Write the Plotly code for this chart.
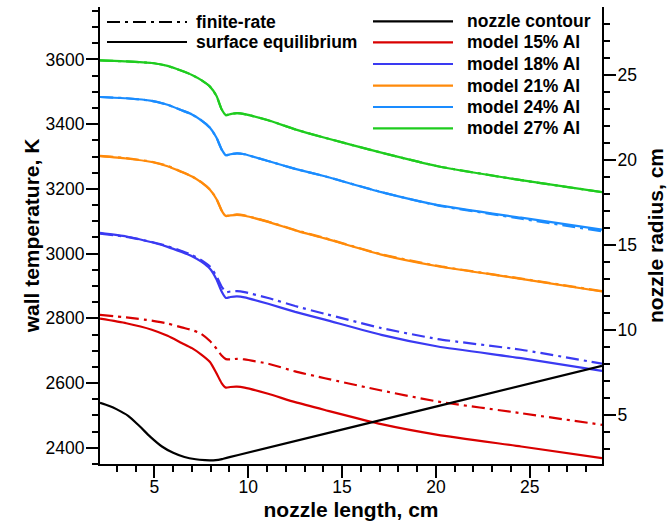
import plotly.graph_objects as go

# ---------------- data ----------------
x_model = [2.1, 3.5, 4.86, 5.7, 6.45, 7.0, 7.5, 7.96, 8.31, 8.58, 8.81, 9.05, 9.4, 9.8,
           11.06, 12.5, 14.08, 17.09, 20.1, 24.54, 28.85]

# surface equilibrium (solid)
eq_15 = [2799, 2785, 2765, 2746, 2724, 2708, 2688, 2665, 2630, 2600, 2586, 2588, 2589, 2586,
         2567, 2541, 2517, 2473, 2440, 2404, 2368]
eq_18 = [3064, 3053, 3035, 3021, 3005, 2992, 2975, 2953, 2920, 2883, 2863, 2866, 2868, 2865,
         2845, 2820, 2796, 2749, 2713, 2677, 2638]
eq_21 = [3301, 3294, 3283, 3270, 3252, 3238, 3220, 3197, 3168, 3133, 3116, 3118, 3120, 3117,
         3098, 3072, 3047, 2997, 2961, 2922, 2883]
eq_24 = [3484, 3480, 3472, 3460, 3443, 3430, 3412, 3389, 3358, 3322, 3304, 3307, 3310, 3307,
         3286, 3262, 3239, 3190, 3150, 3111, 3074]
eq_27 = [3597, 3594, 3589, 3580, 3565, 3552, 3536, 3516, 3487, 3446, 3428, 3431, 3434, 3431,
         3412, 3384, 3358, 3312, 3270, 3227, 3190]

# finite-rate (dash-dot)
fr_15 = [2811, 2803, 2793, 2784, 2772, 2764, 2752, 2730, 2706, 2685, 2674, 2673, 2675, 2673,
         2660, 2636, 2615, 2577, 2543, 2507, 2471]
fr_18 = [3062, 3052, 3036, 3023, 3008, 2996, 2980, 2960, 2930, 2898, 2881, 2883, 2884, 2881,
         2863, 2838, 2814, 2770, 2736, 2703, 2660]
fr_21 = [3302, 3295, 3284, 3271, 3253, 3239, 3221, 3198, 3169, 3134, 3117, 3119, 3121, 3118,
         3099, 3073, 3048, 2998, 2962, 2923, 2884]
fr_24 = [3484, 3480, 3472, 3460, 3443, 3430, 3412, 3389, 3358, 3322, 3304, 3307, 3310, 3307,
         3286, 3262, 3239, 3190, 3149, 3108, 3069]
fr_27 = [3597, 3594, 3589, 3580, 3565, 3552, 3536, 3516, 3487, 3446, 3428, 3431, 3434, 3431,
         3412, 3384, 3358, 3312, 3270, 3227, 3190]

# nozzle contour (right axis)
x_nozzle = [2.1, 2.6, 3.0, 3.6, 4.2, 4.8, 5.4, 6.0, 6.6, 7.2, 7.7, 8.14, 8.4, 8.67, 9.0, 9.47,
            20.1, 28.85]
r_nozzle = [5.72, 5.53, 5.33, 4.95, 4.35, 3.7, 3.15, 2.78, 2.53, 2.4, 2.35, 2.33, 2.36, 2.43,
            2.52, 2.65, 5.52, 7.89]

model_names = ["model 15% Al", "model 18% Al", "model 21% Al", "model 24% Al", "model 27% Al"]
model_colors = ["#d90000", "#3a3af2", "#ff8a0a", "#1a8cff", "#1fcc1f"]
eq_series = [eq_15, eq_18, eq_21, eq_24, eq_27]
fr_series = [fr_15, fr_18, fr_21, fr_24, fr_27]

x_ticks = [5, 10, 15, 20, 25]
t_ticks = [2400, 2600, 2800, 3000, 3200, 3400, 3600]
r_ticks = [5, 10, 15, 20, 25]

# ---------------- figure ----------------
FONT = "Liberation Sans, Arial, Helvetica, sans-serif"
DASHDOT = "13px,5px,3px,5px"
LW = 2.2

fig = go.Figure()

for name, col, eq, fr in zip(model_names, model_colors, eq_series, fr_series):
    fig.add_trace(go.Scatter(x=x_model, y=fr, mode="lines", name=name + " finite-rate",
                             line=dict(color=col, width=LW, dash=DASHDOT, shape="spline",
                                       smoothing=0.5), showlegend=False))
    fig.add_trace(go.Scatter(x=x_model, y=eq, mode="lines", name=name,
                             line=dict(color=col, width=LW, shape="spline", smoothing=0.5),
                             showlegend=False))

fig.add_trace(go.Scatter(x=x_nozzle, y=r_nozzle, mode="lines", name="nozzle contour",
                         yaxis="y2", line=dict(color="black", width=LW, shape="spline",
                                               smoothing=0.8), showlegend=False))

# ---------------- custom legend (long line samples) ----------------
L, R, T, B = 100, 602, 7, 464


def px(xp):
    return (xp - L) / (R - L)


def py(yp):
    return (B - yp) / (B - T)


shapes = []
annotations = []
leg_font = dict(family=FONT, size=17.5, color="black", weight="bold")

left_items = [("finite-rate", DASHDOT, 22), ("surface equilibrium", "solid", 42)]
for text, dash, yy in left_items:
    shapes.append(dict(type="line", xref="paper", yref="paper", x0=px(107), x1=px(187),
                       y0=py(yy), y1=py(yy), line=dict(color="black", width=LW, dash=dash)))
    annotations.append(dict(text=text, xref="paper", yref="paper", x=px(194), y=py(yy),
                            xanchor="left", yanchor="middle", showarrow=False, font=leg_font))

right_items = [("nozzle contour", "black")] + list(zip(model_names, model_colors))
right_y = [21.3, 42.3, 64, 85.7, 107, 128.3]
for (text, col), yy in zip(right_items, right_y):
    shapes.append(dict(type="line", xref="paper", yref="paper", x0=px(373), x1=px(453),
                       y0=py(yy), y1=py(yy), line=dict(color=col, width=LW)))
    annotations.append(dict(text=text, xref="paper", yref="paper", x=px(465), y=py(yy),
                            xanchor="left", yanchor="middle", showarrow=False, font=leg_font))

tick_font = dict(family=FONT, size=17.5, color="black")
title_font = dict(family=FONT, size=21, color="black", weight="bold")

common = dict(showline=True, linewidth=2, linecolor="black", ticks="outside", ticklen=12,
              tickwidth=2, tickcolor="black", showgrid=False, zeroline=False,
              tickfont=tick_font, mirror=False)

fig.update_layout(
    width=668, height=526,
    margin=dict(l=L, r=668 - R, t=T, b=526 - B, autoexpand=False),
    paper_bgcolor="white", plot_bgcolor="white",
    font=dict(family=FONT, color="black"),
    showlegend=False,
    shapes=shapes, annotations=annotations,
    xaxis=dict(range=[2.1, 28.85], tickvals=x_ticks, ticklabelstandoff=-6,
               minor=dict(dtick=1, tick0=0, ticks="outside", ticklen=6, tickwidth=1.5,
                          tickcolor="black", showgrid=False),
               title=dict(text="nozzle length, cm", font=title_font, standoff=6),
               **common),
    yaxis=dict(range=[2350, 3762], tickvals=t_ticks, ticklabelstandoff=-2,
               minor=dict(dtick=50, tick0=0, ticks="outside", ticklen=6, tickwidth=1.5,
                          tickcolor="black", showgrid=False),
               title=dict(text="wall temperature, K", font=title_font, standoff=0),
               **common),
    yaxis2=dict(range=[2.12, 28.98], tickvals=r_ticks, overlaying="y", side="right",
                ticklabelstandoff=-2,
                minor=dict(dtick=1, tick0=0, ticks="outside", ticklen=6, tickwidth=1.5,
                           tickcolor="black", showgrid=False),
                title=dict(text="nozzle radius, cm", font=title_font, standoff=12),
                **common),
)

fig.write_html("out.html")
